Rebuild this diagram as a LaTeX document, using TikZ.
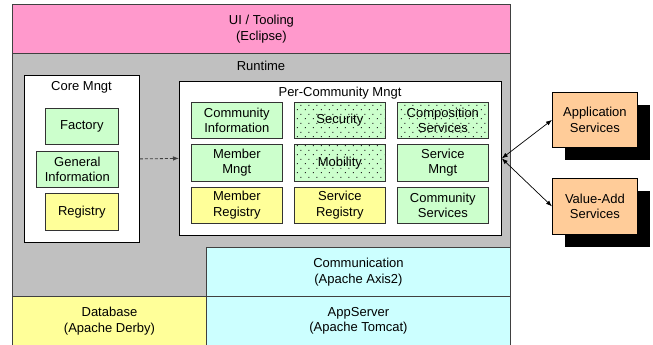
\documentclass[tikz,border=0pt]{standalone}
\usepackage{fontspec}
\setmainfont{Liberation Sans}
\usetikzlibrary{arrows.meta,patterns}

% sparse staggered dot pattern for the dotted components
\pgfdeclarepatternformonly{sparsedots}{\pgfpointorigin}{\pgfpoint{8pt}{9pt}}{\pgfpoint{8pt}{9pt}}{%
  \pgfpathrectangle{\pgfpoint{1pt}{1pt}}{\pgfpoint{1.1pt}{1.1pt}}%
  \pgfpathrectangle{\pgfpoint{5pt}{5.5pt}}{\pgfpoint{1.1pt}{1.1pt}}%
  \pgfusepath{fill}}

\definecolor{uipink}{HTML}{FF99CC}
\definecolor{rtgray}{HTML}{C0C0C0}
\definecolor{compgreen}{HTML}{CCFFCC}
\definecolor{regyellow}{HTML}{FFFF99}
\definecolor{infcyan}{HTML}{CCFFFF}
\definecolor{svcorange}{HTML}{FFCC99}

\tikzset{
  txt/.style={font=\fontsize{13}{15.5}\selectfont, align=center},
  layer/.style={draw=black!75, line width=0.9pt, inner sep=0pt, txt},
  panel/.style={draw=black, fill=white, line width=0.8pt, inner sep=0pt},
  comp/.style={draw=black!80, line width=0.7pt, inner sep=0pt, txt},
  greenbox/.style={comp, fill=compgreen},
  dotbox/.style={comp, preaction={fill=compgreen}, pattern=sparsedots, pattern color=black!85},
  yellowbox/.style={comp, fill=regyellow},
  svcbox/.style={draw=black, line width=0.8pt, fill=svcorange, inner sep=0pt, txt},
  shadowbox/.style={fill=black, draw=none, inner sep=0pt},
  >={Latex[length=6pt,width=4.5pt]},
}

\newcommand{\boxat}[6]{% style, name, x1, y1, x2, y2 (text follows as node content)
  \node[#1, minimum width={#5-#3}, minimum height={#6-#4}, anchor=north west] (#2) at (#3,#4)}

\begin{document}
\begin{tikzpicture}[x=1pt, y=-1pt]
  \useasboundingbox (0,0) rectangle (653,345);

  % stacked platform layers
  \boxat{layer, fill=uipink}{ui}{12}{4}{510}{53} {UI / Tooling\\(Eclipse)};
  \boxat{layer, fill=rtgray}{runtime}{12}{53}{510}{296} {};
  \node[txt, anchor=center] (rtlabel) at (261,66) {Runtime};
  \boxat{layer, fill=infcyan}{comm}{206}{247}{510}{296} {Communication\\(Apache Axis2)};
  \boxat{layer, fill=regyellow}{db}{12}{296}{206}{345} {Database\\(Apache Derby)};
  \boxat{layer, fill=infcyan}{appsrv}{206}{296}{510}{345} {AppServer\\(Apache Tomcat)};

  % core management
  \boxat{panel}{core}{24}{75}{139}{242} {};
  \node[txt] (corelabel) at (81.5,87) {Core Mngt};
  \boxat{greenbox}{factory}{45}{108}{118}{144} {Factory};
  \boxat{greenbox}{geninfo}{36}{151}{118}{187} {General\\Information};
  \boxat{yellowbox}{registry}{45}{193}{118}{230} {Registry};

  % per-community management
  \boxat{panel}{percomm}{179}{81}{501}{235} {};
  \node[txt] (pclabel) at (340,93) {Per-Community Mngt};
  \boxat{greenbox}{cinfo}{191}{102}{282}{138} {Community\\Information};
  \boxat{dotbox}{security}{294}{102}{385}{138} {Security};
  \boxat{dotbox}{compsvc}{397}{102}{488}{138} {Composition\\Services};
  \boxat{greenbox}{mmngt}{191}{144}{282}{181} {Member\\Mngt};
  \boxat{dotbox}{mobility}{294}{144}{385}{181} {Mobility};
  \boxat{greenbox}{smngt}{397}{144}{488}{181} {Service\\Mngt};
  \boxat{yellowbox}{mreg}{191}{187}{282}{223} {Member\\Registry};
  \boxat{yellowbox}{sreg}{294}{187}{385}{223} {Service\\Registry};
  \boxat{greenbox}{csvc}{397}{187}{488}{223} {Community\\Services};

  % external services with drop shadows
  \boxat{shadowbox}{appshadow}{565}{105}{650}{160} {};
  \boxat{svcbox}{appsvc}{552}{92}{637}{147} {Application\\Services};
  \boxat{shadowbox}{vashadow}{565}{191}{650}{247} {};
  \boxat{svcbox}{vasvc}{552}{178}{637}{234} {Value-Add\\Services};

  % connectors
  \draw[densely dashed, line width=0.8pt, black!75, ->] (core.east) -- (percomm.west);
  \draw[line width=0.7pt, <->] (percomm.east) -- (appsvc.west);
  \draw[line width=0.7pt, <->] (percomm.east) -- (vasvc.west);
\end{tikzpicture}
\end{document}
